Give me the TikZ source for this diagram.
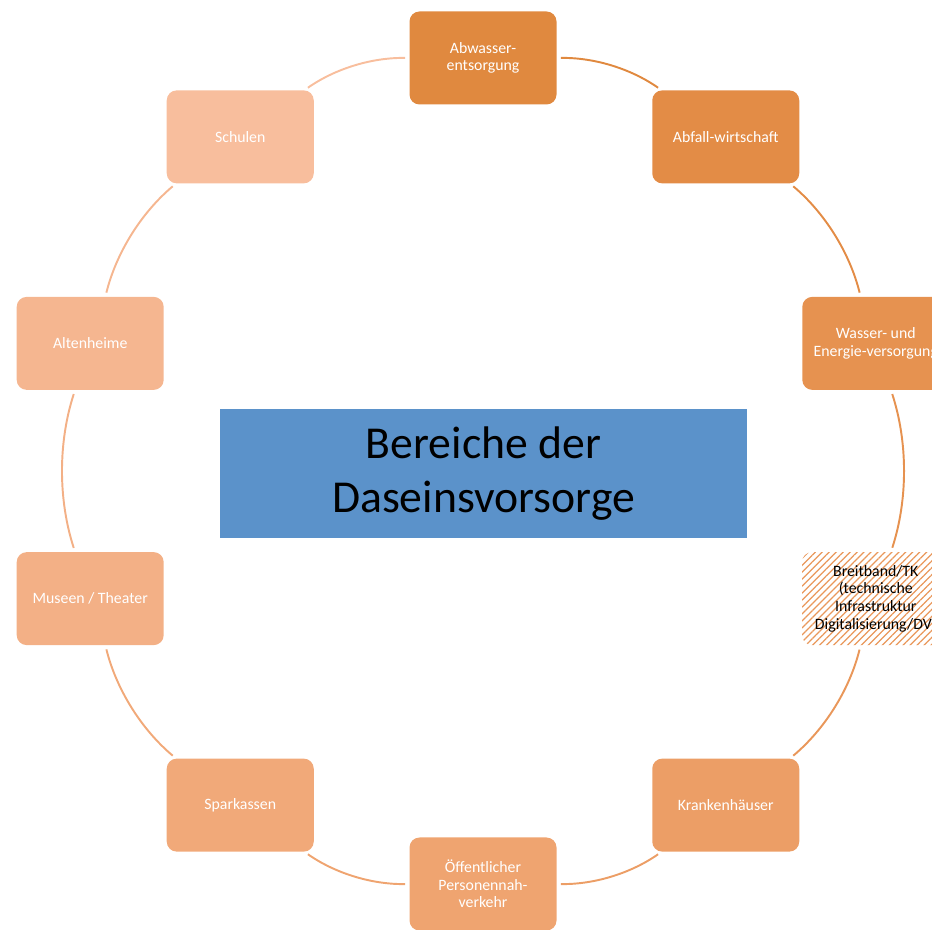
\documentclass[tikz,border=0pt]{standalone}
\usepackage{fontspec}
\setmainfont{Carlito}
\usepackage{tikz}
\usetikzlibrary{patterns.meta}

\definecolor{dsA}{HTML}{E0893F}
\definecolor{dsB}{HTML}{E38C46}
\definecolor{dsC}{HTML}{E69250}
\definecolor{dsD}{HTML}{E9975A}
\definecolor{dsE}{HTML}{EC9E66}
\definecolor{dsF}{HTML}{EFA470}
\definecolor{dsG}{HTML}{F1A979}
\definecolor{dsH}{HTML}{F3B086}
\definecolor{dsI}{HTML}{F5B690}
\definecolor{dsJ}{HTML}{F8BE9D}
\definecolor{dsblue}{HTML}{5B92CA}

\begin{document}
\begin{tikzpicture}[
  x=0.2mm, y=0.2mm,
  every node/.style={font=\fontsize{9}{10}\selectfont, inner sep=1pt},
  field/.style   ={rounded corners=2mm, minimum width=29.4mm, minimum height=18.6mm,
                   align=center, text=white},
  hatched/.style ={rounded corners=2mm, minimum width=29.4mm, minimum height=18.6mm,
                   text width=28.8mm, align=center, text=black,
                   pattern={Lines[angle=45, distance=2.8pt, line width=0.7pt]},
                   pattern color=dsD},
  ring/.style    ={line width=1.1pt, bend left=18, looseness=0.87,
                   shorten <=0.8mm, shorten >=0.8mm},
  titlebox/.style={fill=dsblue, minimum width=105.4mm, minimum height=25.8mm,
                   align=center, font=\fontsize{26}{31}\selectfont}]

\useasboundingbox (0,0) rectangle (932,929);
\clip (0,0) rectangle (932,929);

% the ring of fields, centre of the ring at (483,458)
\begin{scope}[shift={(483,458)}]
  \node[titlebox] (bereiche) at (0.5,-2.5) {Bereiche der\\Daseinsvorsorge};

  % ===========================  fields  ================================
  \node[field, fill=dsA] (abwasser)  at (90:413)   {Abwasser-\\entsorgung};
  \node[field, fill=dsB] (abfall)    at (54:413)   {Abfall-wirtschaft};
  \node[field, fill=dsC] (wasser)    at (18:413)   {Wasser- und\\Energie-versorgung};
  \node[hatched]         (breitband) at (-18:413)  {Breitband/TK\\(technische\\Infrastruktur\\Digitalisierung/DV)};
  \node[field, fill=dsE] (kranken)   at (-54:413)  {Krankenhäuser};
  \node[field, fill=dsF] (oepnv)     at (-90:413)  {Öffentlicher\\Personennah-\\verkehr};
  \node[field, fill=dsG] (sparkasse) at (-126:413) {Sparkassen};
  \node[field, fill=dsH] (museen)    at (-162:413) {Museen / Theater};
  \node[field, fill=dsI] (altenheim) at (162:413)  {Altenheime};
  \node[field, fill=dsJ] (schulen)   at (126:413)  {Schulen};

  % ==========================  the ring  ===============================
  \foreach \from/\to/\col in {abwasser/abfall/dsA, abfall/wasser/dsB,
      wasser/breitband/dsC, breitband/kranken/dsD, kranken/oepnv/dsE,
      oepnv/sparkasse/dsF, sparkasse/museen/dsG, museen/altenheim/dsH,
      altenheim/schulen/dsI, schulen/abwasser/dsJ}
    {\draw[ring, \col] (\from) to (\to);}
\end{scope}

\end{tikzpicture}
\end{document}
